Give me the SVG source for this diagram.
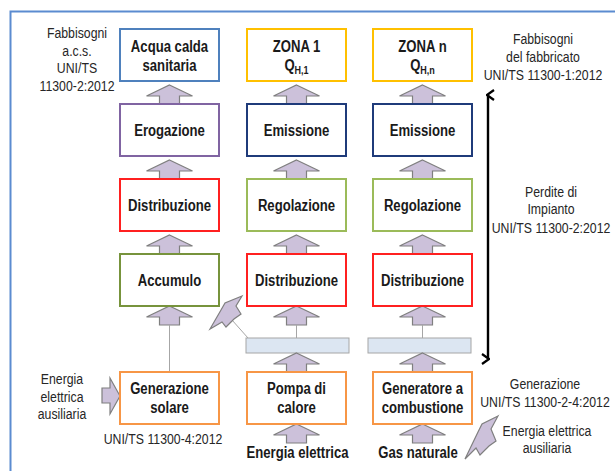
<svg xmlns="http://www.w3.org/2000/svg" width="615" height="471" viewBox="0 0 615 471">
<style>
.box{fill:#fff;stroke-width:2}
.lbl{font-family:"Liberation Sans",Arial,sans-serif;font-weight:bold;font-size:16px;fill:#1a1a1a;text-anchor:middle}
.side{font-family:"Liberation Sans",Arial,sans-serif;font-size:15px;fill:#262626;text-anchor:middle}
.blk{fill:#ccc1da;stroke:#7f7f7f;stroke-width:1.2;stroke-linejoin:miter}
.thin{stroke:#a6a6a6;stroke-width:1;fill:none}
.bar{fill:#dce6f2;stroke:#a6a6a6;stroke-width:1}
</style>
<defs>
<path id="ua" class="blk" d="M0,0 L23,11 L10,11 L10,19 L-10,19 L-10,11 L-23,11 Z"/>
<marker id="ah" viewBox="0 0 12 12" refX="6" refY="2" markerWidth="12" markerHeight="12" markerUnits="userSpaceOnUse" orient="auto-start-reverse">
<path d="M1,8 L6,1 L11,8" fill="none" stroke="#000" stroke-width="2.2"/>
</marker>
</defs>
<rect x="10.5" y="11.5" width="620" height="480" fill="none" stroke="#5b8bd0" stroke-width="2"/>

<g id="connectors">
<use href="#ua" transform="translate(169.5,85)"/>
<use href="#ua" transform="translate(169.5,160)"/>
<use href="#ua" transform="translate(169.5,235)"/>
<use href="#ua" transform="translate(169.5,306)"/>
<use href="#ua" transform="translate(296.5,85)"/>
<use href="#ua" transform="translate(296.5,160)"/>
<use href="#ua" transform="translate(296.5,235)"/>
<use href="#ua" transform="translate(296.5,306)"/>
<use href="#ua" transform="translate(422.5,85)"/>
<use href="#ua" transform="translate(422.5,160)"/>
<use href="#ua" transform="translate(422.5,235)"/>
<use href="#ua" transform="translate(422.5,306)"/>
<line class="thin" x1="169.5" y1="325" x2="169.5" y2="372"/>
<line class="thin" x1="296.5" y1="325" x2="296.5" y2="338"/>
<line class="thin" x1="422.5" y1="325" x2="422.5" y2="338"/>
<line class="thin" x1="248" y1="338" x2="232" y2="320"/>
<rect class="bar" x="246" y="338" width="103" height="15"/>
<rect class="bar" x="368" y="338" width="103" height="15"/>
<use href="#ua" transform="translate(296.5,353)"/>
<use href="#ua" transform="translate(422.5,353)"/>
<use href="#ua" transform="translate(296.5,424)"/>
<use href="#ua" transform="translate(422.5,424)"/>
<path class="blk" d="M120,396 L110,378 L110,388 L102,388 L102,403 L110,403 L110,414 Z"/>
<path class="blk" d="M242,296 L225,303 L221,310 L210,329 L222,322 L226,327 L234,319 L241,314 L236,306 Z"/>
<path class="blk" d="M498,416 L482,424 L478,432 L465,459 L476,448 L480,455 L489,446 L496,441 L491,429 Z"/>
<line x1="488" y1="95" x2="488" y2="359" stroke="#000" stroke-width="2.4" marker-start="url(#ah)" marker-end="url(#ah)"/>
</g>

<g id="acqua">
<rect class="box" x="120" y="29" width="99" height="52" stroke="#4f81bd"/>
<g transform="translate(169.5,0) scale(0.82,1)">
<text class="lbl" x="0" y="52.5">Acqua calda</text>
<text class="lbl" x="0" y="71.5">sanitaria</text>
</g>
</g>
<g id="zona1">
<rect class="box" x="247" y="29" width="99" height="52" stroke="#ffc000"/>
<g transform="translate(296.5,0) scale(0.82,1)">
<text class="lbl" x="0" y="52.5">ZONA 1</text>
<text class="lbl" x="0" y="71.5">Q<tspan font-size="11" dy="3">H,1</tspan></text>
</g>
</g>
<g id="zonan">
<rect class="box" x="373" y="29" width="99" height="52" stroke="#ffc000"/>
<g transform="translate(422.5,0) scale(0.82,1)">
<text class="lbl" x="0" y="52.5">ZONA n</text>
<text class="lbl" x="0" y="71.5">Q<tspan font-size="11" dy="3">H,n</tspan></text>
</g>
</g>
<g id="erogazione">
<rect class="box" x="120" y="104" width="99" height="52" stroke="#8064a2"/>
<text class="lbl" transform="translate(169.5,135.5) scale(0.82,1)">Erogazione</text>
</g>
<g id="emissione1">
<rect class="box" x="247" y="104" width="99" height="52" stroke="#1f3b7a"/>
<text class="lbl" transform="translate(296.5,135.5) scale(0.82,1)">Emissione</text>
</g>
<g id="emissionen">
<rect class="box" x="373" y="104" width="99" height="52" stroke="#1f3b7a"/>
<text class="lbl" transform="translate(422.5,135.5) scale(0.82,1)">Emissione</text>
</g>
<g id="distribuzione-acs">
<rect class="box" x="120" y="179" width="99" height="52" stroke="#ff2020"/>
<text class="lbl" transform="translate(169.5,210.5) scale(0.82,1)">Distribuzione</text>
</g>
<g id="regolazione1">
<rect class="box" x="247" y="179" width="99" height="52" stroke="#9bbb59"/>
<text class="lbl" transform="translate(296.5,210.5) scale(0.82,1)">Regolazione</text>
</g>
<g id="regolazionen">
<rect class="box" x="373" y="179" width="99" height="52" stroke="#9bbb59"/>
<text class="lbl" transform="translate(422.5,210.5) scale(0.82,1)">Regolazione</text>
</g>
<g id="accumulo">
<rect class="box" x="120" y="254" width="99" height="52" stroke="#77933c"/>
<text class="lbl" transform="translate(169.5,285.5) scale(0.82,1)">Accumulo</text>
</g>
<g id="distribuzione1">
<rect class="box" x="247" y="254" width="99" height="52" stroke="#ff2020"/>
<text class="lbl" transform="translate(296.5,285.5) scale(0.82,1)">Distribuzione</text>
</g>
<g id="distribuzionen">
<rect class="box" x="373" y="254" width="99" height="52" stroke="#ff2020"/>
<text class="lbl" transform="translate(422.5,285.5) scale(0.82,1)">Distribuzione</text>
</g>
<g id="solare">
<rect class="box" x="120" y="372" width="99" height="52" stroke="#f79646"/>
<g transform="translate(169.5,0) scale(0.82,1)">
<text class="lbl" x="0" y="394.5">Generazione</text>
<text class="lbl" x="0" y="413.5">solare</text>
</g>
</g>
<g id="pompa">
<rect class="box" x="247" y="372" width="99" height="52" stroke="#f79646"/>
<g transform="translate(296.5,0) scale(0.82,1)">
<text class="lbl" x="0" y="394.5">Pompa di</text>
<text class="lbl" x="0" y="413.5">calore</text>
</g>
</g>
<g id="caldaia">
<rect class="box" x="373" y="372" width="99" height="52" stroke="#f79646"/>
<g transform="translate(422.5,0) scale(0.82,1)">
<text class="lbl" x="0" y="394.5">Generatore a</text>
<text class="lbl" x="0" y="413.5">combustione</text>
</g>
</g>

<g id="energia-elettrica">
<text class="lbl" transform="translate(297.5,458) scale(0.82,1)">Energia elettrica</text>
</g>
<g id="gas-naturale">
<text class="lbl" transform="translate(418,458) scale(0.82,1)">Gas naturale</text>
</g>
<g id="label-acs" transform="translate(77,0) scale(0.82,1)">
<text class="side" x="0" y="38">Fabbisogni</text>
<text class="side" x="0" y="56">a.c.s.</text>
<text class="side" x="0" y="73">UNI/TS</text>
<text class="side" x="0" y="91">11300-2:2012</text>
</g>
<g id="label-fabbricato" transform="translate(543,0) scale(0.82,1)">
<text class="side" x="0" y="44">Fabbisogni</text>
<text class="side" x="0" y="62">del fabbricato</text>
<text class="side" x="0" y="80">UNI/TS 11300-1:2012</text>
</g>
<g id="label-perdite" transform="translate(551,0) scale(0.82,1)">
<text class="side" x="0" y="197">Perdite di</text>
<text class="side" x="0" y="214">Impianto</text>
<text class="side" x="0" y="233">UNI/TS 11300-2:2012</text>
</g>
<g id="label-generazione" transform="translate(545,0) scale(0.82,1)">
<text class="side" x="0" y="389">Generazione</text>
<text class="side" x="0" y="407">UNI/TS 11300-2-4:2012</text>
</g>
<g id="label-aux-right" transform="translate(547,0) scale(0.82,1)">
<text class="side" x="0" y="436">Energia elettrica</text>
<text class="side" x="0" y="453">ausiliaria</text>
</g>
<g id="label-aux-left" transform="translate(62,0) scale(0.82,1)">
<text class="side" x="0" y="384">Energia</text>
<text class="side" x="0" y="402">elettrica</text>
<text class="side" x="0" y="419">ausiliaria</text>
</g>
<g id="label-solare" transform="translate(163,0) scale(0.82,1)">
<text class="side" x="0" y="444">UNI/TS 11300-4:2012</text>
</g>
</svg>
